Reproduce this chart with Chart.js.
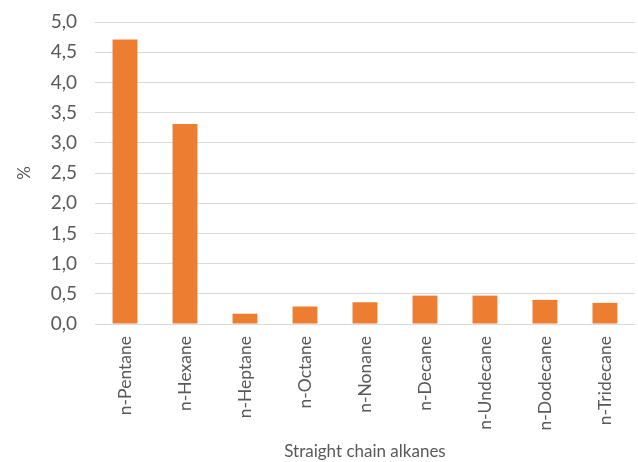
<!DOCTYPE html>
<html>
<head>
<meta charset="utf-8">
<script src="https://cdn.jsdelivr.net/npm/chart.js@4"></script>
<style>
	html, body { margin: 0; padding: 0; background: #fff; }
	#box { width: 638px; height: 462px; }
</style>
</head>
<body>
<div id="box"><canvas id="grafico"></canvas></div>
<script>
var alcanos = ["n-Pentane", "n-Hexane", "n-Heptane", "n-Octane", "n-Nonane", "n-Decane", "n-Undecane", "n-Dodecane", "n-Tridecane"]
var percentuais = [4.71, 3.31, 0.17, 0.29, 0.36, 0.47, 0.47, 0.40, 0.35]
var tituloX = "Straight chain alkanes"
var tituloY = "%"

const LARGURA_Y = 81
const ALTURA_X = 138
var fonte = "Lato"
var cinza = "#595959"

var grafico = new Chart(document.getElementById("grafico"), {
	type: "bar",
	data: {
		labels: alcanos,
		datasets: [{
			data: percentuais,
			backgroundColor: "#ED7D31",
			borderWidth: 0,
			categoryPercentage: 1,
			barPercentage: 0.415
		}]
	},
	options: {
		responsive: true,
		maintainAspectRatio: false,
		animation: false,
		layout: { padding: { top: 22, right: 1, left: 14, bottom: 0 } },
		plugins: { legend: { display: false }, tooltip: { enabled: false } },
		scales: {
			x: {
				grid: { display: false, drawTicks: false },
				border: { color: "#d9d9d9" },
				ticks: {
					color: cinza,
					font: { family: fonte, size: 17.5 },
					minRotation: 90,
					maxRotation: 90,
					padding: 12
				},
				title: {
					display: true,
					text: tituloX,
					color: cinza,
					font: { family: fonte, size: 17 },
					padding: { top: 0, bottom: 0 }
				},
				afterFit: function (escala) { escala.height = ALTURA_X }
			},
			y: {
				min: 0,
				max: 5,
				grid: { color: "#d9d9d9", drawTicks: false },
				border: { display: false },
				ticks: {
					stepSize: 0.5,
					color: cinza,
					font: { family: fonte, size: 19 },
					padding: 18,
					callback: function (v) { return v.toFixed(1).replace(".", ",") }
				},
				title: {
					display: true,
					text: tituloY,
					color: cinza,
					font: { family: fonte, size: 17 },
					padding: 0
				},
				afterFit: function (escala) {
					escala.width = LARGURA_Y
					// o padding dos ticks nao deve empurrar o topo do grafico
					escala.paddingTop = 0
					escala.paddingBottom = 0
				}
			}
		}
	}
})
</script>
</body>
</html>
